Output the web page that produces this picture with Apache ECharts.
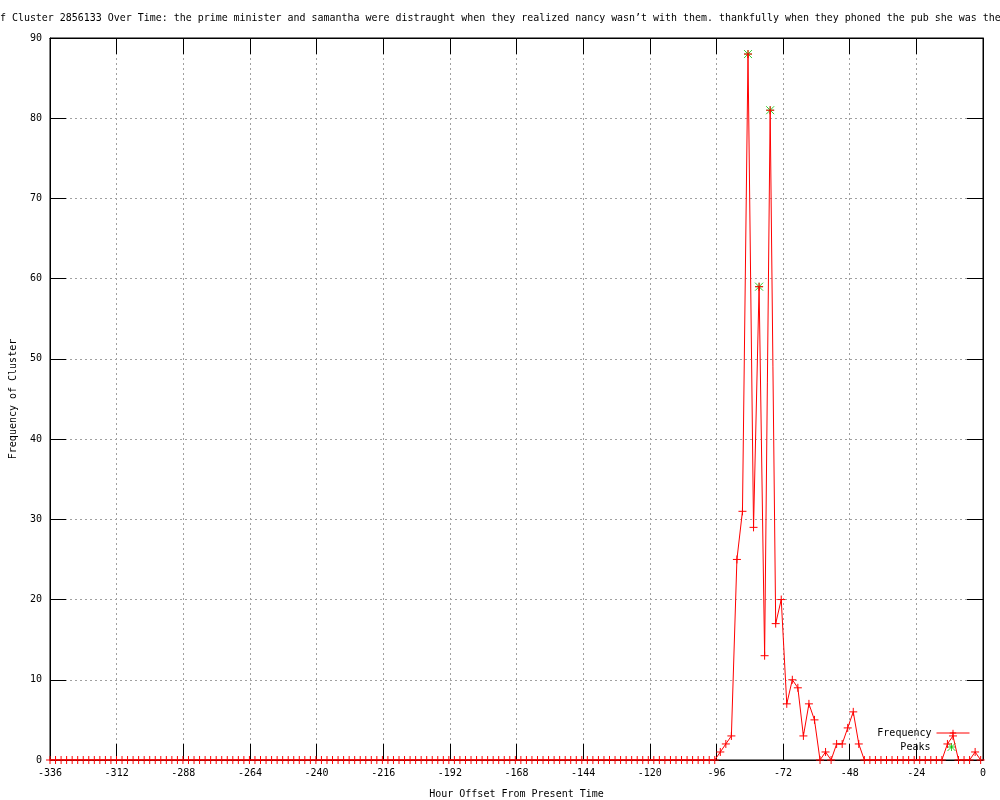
<!DOCTYPE html>
<html>
<head>
<meta charset="utf-8">
<script src="https://cdn.jsdelivr.net/npm/echarts@6/dist/echarts.min.js"></script>
<style>
html,body{margin:0;padding:0;background:#fff;}
#chart{width:1000px;height:800px;}
</style>
</head>
<body>
<div id="chart"></div>
<script>
// ---- data ----
const titleText = "Frequency of Cluster 2856133 Over Time: the prime minister and samantha were distraught when they realized nancy wasn\u2019t with them. thankfully when they phoned the pub she was there";
const startHour = -336;
const hourStep = 1.995;            // spacing between samples (hours)
const frequency = [
  0,0,0,0,0,0,0,0,0,0,0,0,0,0,0,0,0,0,0,0,
  0,0,0,0,0,0,0,0,0,0,0,0,0,0,0,0,0,0,0,0,
  0,0,0,0,0,0,0,0,0,0,0,0,0,0,0,0,0,0,0,0,
  0,0,0,0,0,0,0,0,0,0,0,0,0,0,0,0,0,0,0,0,
  0,0,0,0,0,0,0,0,0,0,0,0,0,0,0,0,0,0,0,0,
  0,0,0,0,0,0,0,0,0,0,0,0,0,0,0,0,0,0,0,0,
  0,1,2,3,25,31,88,29,59,13,81,17,20,7,10,9,3,7,5,0,
  1,0,2,2,4,6,2,0,0,0,0,0,0,0,0,0,0,0,0,0,
  0,0,2,3,0,0,0,1,0
];
const peakIndex = [126, 128, 130];
const xTicks = {min: -336, max: 0, interval: 24};
const yTicks = {min: 0, max: 90, interval: 10};

// ---- build ----
const hours = frequency.map((_, i) => startHour + i * hourStep);
const freqData = frequency.map((v, i) => [hours[i], v]);
const peakData = peakIndex.map(i => [hours[i], frequency[i]]);

const FONT = 'DejaVu Sans Mono';
const plusPath = 'path://M5,0L5,10M0,5L10,5';
const starPath = 'path://M0,0L10,10M10,0L0,10M5,0L5,10M0,5L10,5';

const tickStyle = {show: true, inside: true, length: 16, lineStyle: {color: '#000', width: 1}};
const gridLine = {show: true, lineStyle: {color: '#a0a0a0', type: [2, 3], width: 1}};

const chart = echarts.init(document.getElementById('chart'), null, {renderer: 'canvas'});
chart.setOption({
  animation: false,
  backgroundColor: '#fff',
  title: {
    text: titleText,
    left: -66, top: 13, padding: 0,
    textStyle: {fontFamily: FONT, fontSize: 9.96, fontWeight: 'normal', color: '#000'}
  },
  grid: {left: 50, right: 17, top: 38, bottom: 40, show: true, borderColor: '#000', borderWidth: 1,
         backgroundColor: 'transparent', containLabel: false, outerBoundsMode: 'none'},
  legend: [
    {
      data: ['Frequency'], right: 30, top: 728, padding: 0, align: 'right',
      itemWidth: 33, itemHeight: 8, itemGap: 0,
      lineStyle: {width: 1},
      itemStyle: {borderWidth: 1},
      textStyle: {fontFamily: FONT, fontSize: 10, color: '#000'}
    },
    {
      data: ['Peaks'], right: 44, top: 742, padding: 0, align: 'right',
      itemWidth: 8, itemHeight: 8, itemGap: 0,
      formatter: name => name + '  ',
      itemStyle: {borderWidth: 1},
      textStyle: {fontFamily: FONT, fontSize: 10, color: '#000'}
    }
  ],
  xAxis: [
    {
      type: 'value', position: 'bottom', min: xTicks.min, max: xTicks.max, interval: xTicks.interval,
      name: 'Hour Offset From Present Time', nameLocation: 'middle', nameGap: 29,
      nameTextStyle: {fontFamily: FONT, fontSize: 10, color: '#000'},
      axisLine: {show: true, onZero: false, lineStyle: {color: '#000', width: 1}},
      axisTick: tickStyle,
      axisLabel: {fontFamily: FONT, fontSize: 10, color: '#000', margin: 8},
      splitLine: gridLine
    },
    {
      type: 'value', position: 'top', min: xTicks.min, max: xTicks.max, interval: xTicks.interval,
      axisLine: {show: true, onZero: false, lineStyle: {color: '#000', width: 1}},
      axisTick: tickStyle, axisLabel: {show: false}, splitLine: {show: false}
    }
  ],
  yAxis: [
    {
      type: 'value', position: 'left', min: yTicks.min, max: yTicks.max, interval: yTicks.interval,
      name: 'Frequency of Cluster', nameLocation: 'middle', nameGap: 32, nameRotate: 90,
      nameTextStyle: {fontFamily: FONT, fontSize: 10, color: '#000'},
      axisLine: {show: true, onZero: false, lineStyle: {color: '#000', width: 1}},
      axisTick: tickStyle,
      axisLabel: {fontFamily: FONT, fontSize: 10, color: '#000', margin: 8},
      splitLine: gridLine
    },
    {
      type: 'value', position: 'right', min: yTicks.min, max: yTicks.max, interval: yTicks.interval,
      axisLine: {show: true, onZero: false, lineStyle: {color: '#000', width: 1}},
      axisTick: tickStyle, axisLabel: {show: false}, splitLine: {show: false}
    }
  ],
  series: [
    {
      name: 'Peaks', type: 'scatter', data: peakData, z: 3,
      symbol: starPath, symbolSize: 8,
      itemStyle: {color: 'rgba(0,0,0,0)', borderColor: '#00c000', borderWidth: 1}
    },
    {
      name: 'Frequency', type: 'line', data: freqData, z: 4,
      showAllSymbol: true, symbol: plusPath, symbolSize: 8,
      lineStyle: {color: '#ff0000', width: 1},
      itemStyle: {color: 'rgba(0,0,0,0)', borderColor: '#ff0000', borderWidth: 1}
    }
  ]
});
</script>
</body>
</html>
